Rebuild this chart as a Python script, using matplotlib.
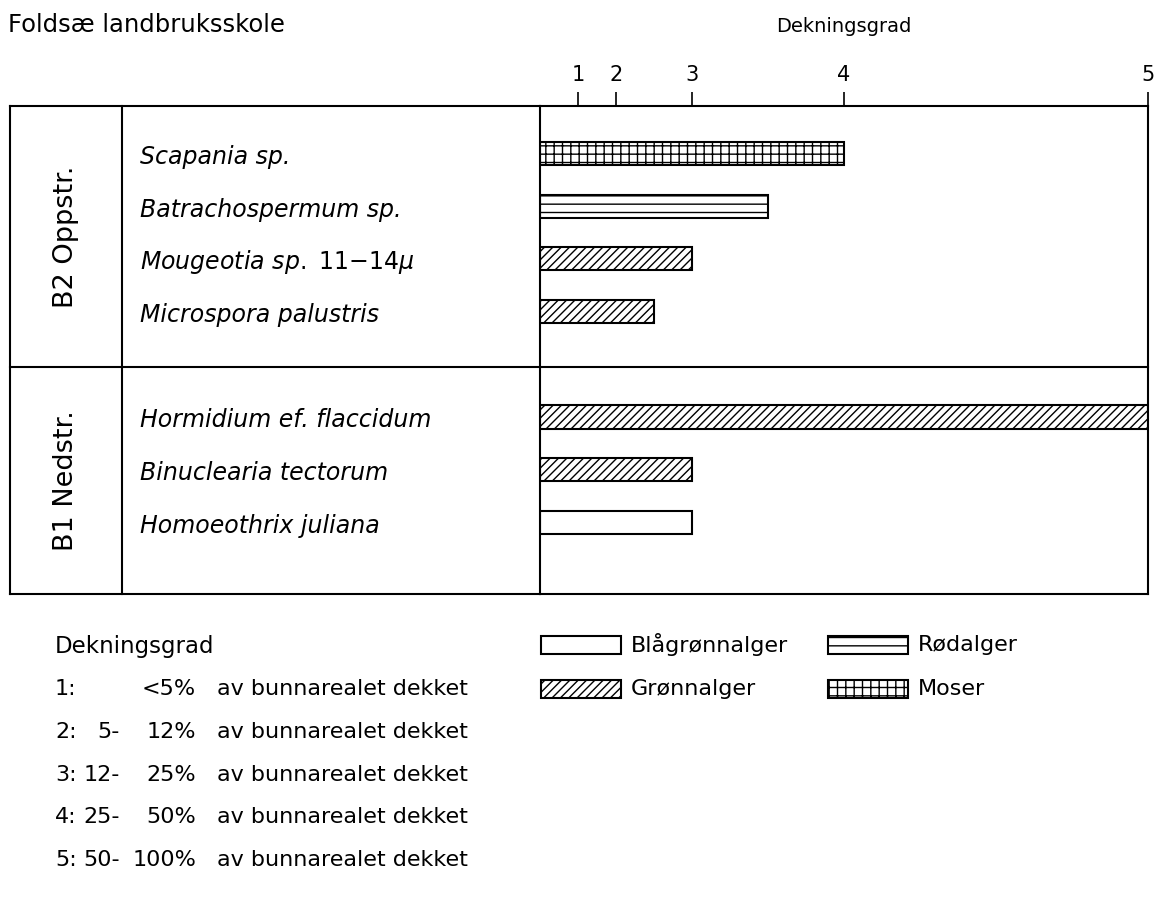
import numpy as np
import matplotlib
matplotlib.use("Agg")
import matplotlib.pyplot as plt
import matplotlib.transforms as mtransforms
from matplotlib.patches import Rectangle

plt.rcParams['font.family'] = ['DejaVu Sans']
plt.rcParams['hatch.linewidth'] = 1.0

# ---------------- data ----------------
site_title = "Foldsæ landbruksskole"
axis_title = "Dekningsgrad"
groups = ["B2 Oppstr.", "B1 Nedstr."]
species = ["Scapania sp.", "Batrachospermum sp.", "Mougeotia sp.", "Microspora palustris",
           "Hormidium ef. flaccidum", "Binuclearia tectorum", "Homoeothrix juliana"]
species_note = ["", "", "11\u221214$\\mu$", "", "", "", ""]
species_group = [0, 0, 0, 0, 1, 1, 1]
cover = [4, 3.5, 3, 2.5, 5, 3, 3]
algae = ["Moser", "Rødalger", "Grønnalger", "Grønnalger",
         "Grønnalger", "Grønnalger", "Blågrønnalger"]
legend_types = ["Blågrønnalger", "Rødalger", "Grønnalger", "Moser"]
tick_grades = [1, 2, 3, 4, 5]
tick_labels = ["1", "2", "3", "4", "5"]
# cover-class scale breakpoints (grade -> relative bottom coverage)
scale_grades = [0, 1, 2, 3, 4, 5]
scale_cover = [0, 6.25, 12.5, 25, 50, 100]
class_num = ["1:", "2:", "3:", "4:", "5:"]
class_low = ["", "5-", "12-", "25-", "50-"]
class_high = ["<5%", "12%", "25%", "50%", "100%"]
class_text = "av bunnarealet dekket"

hatches = {"Blågrønnalger": "", "Rødalger": "--", "Grønnalger": "////", "Moser": "++"}

# ---------------- figure ----------------
W, H = 1158, 897
fig = plt.figure(figsize=(W / 100, H / 100), dpi=100)
pix = mtransforms.Affine2D().scale(1 / W, -1 / H).translate(0, 1) + fig.transFigure

ax_l, ax_r, ax_t, ax_b = 540, 1148, 106, 594
ax = fig.add_axes([ax_l / W, 1 - ax_b / H, (ax_r - ax_l) / W, (ax_b - ax_t) / H])

fwd = lambda g: np.interp(g, scale_grades, scale_cover)
inv = lambda p: np.interp(p, scale_cover, scale_grades)
ax.set_xscale('function', functions=(fwd, inv))
ax.set_xlim(0, 5)
y_top, y_bot = -0.9, 8.36
ax.set_ylim(y_bot, y_top)

rows = [i + g for i, g in enumerate(species_group)]
for r, v, a in zip(rows, cover, algae):
    ax.barh(r, v, height=0.44, left=0, color='white', edgecolor='black',
            linewidth=1.5, hatch=hatches[a])

ax.xaxis.set_ticks_position('top')
ax.set_xticks(tick_grades)
ax.set_xticklabels(tick_labels)
ax.xaxis.set_minor_locator(matplotlib.ticker.NullLocator())
ax.tick_params(axis='x', direction='out', length=10, width=1.2, pad=5, labelsize=15)
ax.set_yticks([])
for s in ax.spines.values():
    s.set_linewidth(1.5)

trans = mtransforms.blended_transform_factory(ax.transAxes, ax.transData)
def axx(px):
    return (px - ax_l) / (ax_r - ax_l)

x_left, x_div = axx(10), axx(122)
lk = dict(color='black', lw=1.5, transform=trans, clip_on=False, solid_capstyle='projecting')
ax.plot([x_left, 0], [y_top, y_top], **lk)
ax.plot([x_left, 0], [y_bot, y_bot], **lk)
ax.plot([x_left, x_left], [y_top, y_bot], **lk)
ax.plot([x_div, x_div], [y_top, y_bot], **lk)
sep = (rows[3] + rows[4]) / 2 + 0.05
ax.plot([x_left, 1], [sep, sep], **lk)

# species names
for r, name, note in zip(rows, species, species_note):
    if note:
        label = "$\\mathit{" + name.replace(" ", "\\ ") + "}$ " + note
        ax.text(axx(140), r + 0.2, label, transform=trans, fontsize=17, va='baseline', ha='left')
    else:
        ax.text(axx(140), r + 0.2, name, transform=trans, fontsize=17, style='italic',
                va='baseline', ha='left')

# group labels
bounds = [y_top, sep, y_bot]
for gi, g in enumerate(groups):
    ax.text(axx(66), (bounds[gi] + bounds[gi + 1]) / 2, g, transform=trans, rotation=90,
            ha='center', va='center', fontsize=19.5)

# titles
fig.text(8, 25, site_title, transform=pix, fontsize=17.5, va='center', ha='left')
ax.text(0.5, 1.162, axis_title, transform=ax.transAxes, fontsize=14, va='center', ha='center')

# type legend
leg_pos = {"Blågrønnalger": (541, 645), "Rødalger": (828, 645),
           "Grønnalger": (541, 689), "Moser": (828, 689)}
for t in legend_types:
    x0, yc = leg_pos[t]
    fig.patches.append(Rectangle((x0, yc - 9), 80, 18, transform=pix, facecolor='white',
                                 edgecolor='black', linewidth=1.5, hatch=hatches[t]))
    fig.text(x0 + 90, yc, t, transform=pix, fontsize=16, va='center', ha='left')

# cover-class legend
fig.text(55, 647, axis_title, transform=pix, fontsize=16.5, va='center', ha='left')
class_y = [689, 732, 775, 817, 860]
for y, n, lo, hi in zip(class_y, class_num, class_low, class_high):
    fig.text(55, y, n, transform=pix, fontsize=16, va='center', ha='left')
    if lo:
        fig.text(120, y, lo, transform=pix, fontsize=16, va='center', ha='right')
    fig.text(196, y, hi, transform=pix, fontsize=16, va='center', ha='right')
    fig.text(217, y, class_text, transform=pix, fontsize=16, va='center', ha='left')

fig.savefig("out.png", dpi=100)
